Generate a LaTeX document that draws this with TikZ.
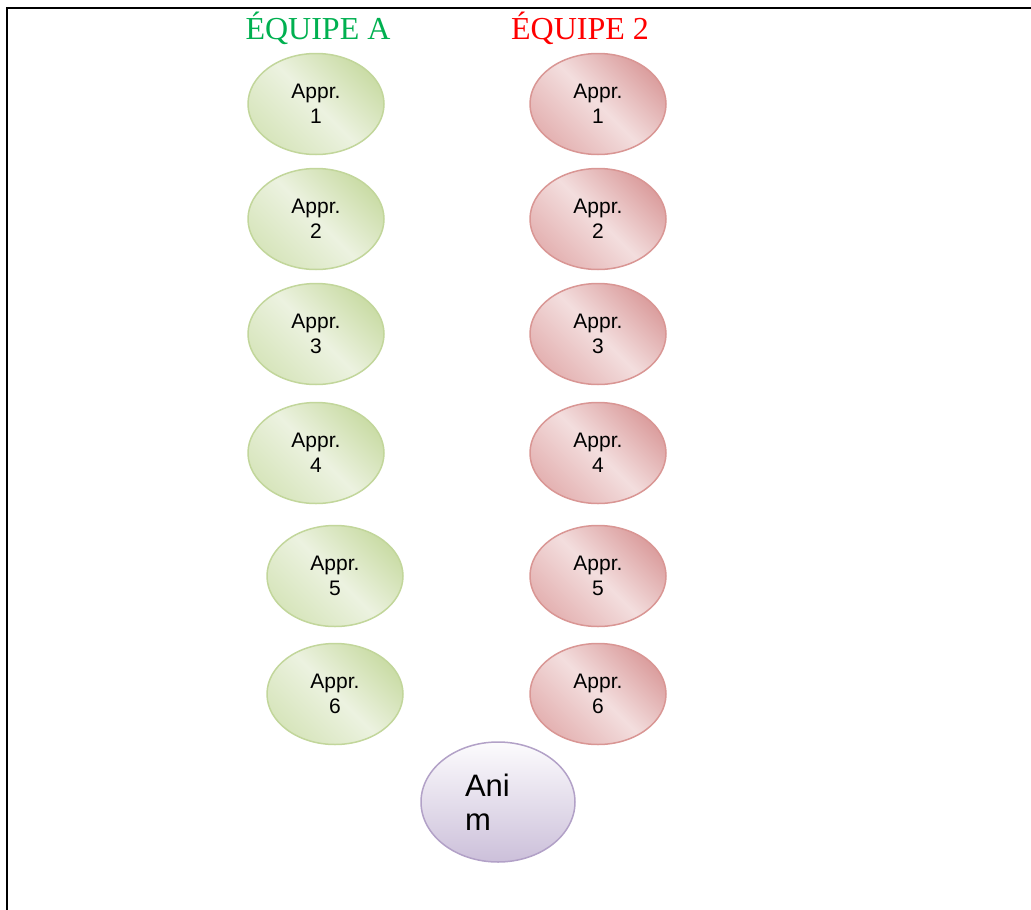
\documentclass[tikz,border=0pt]{standalone}
\usepackage{fontspec}
\setmainfont{Liberation Serif}
\newfontfamily\arialfont{Liberation Sans}
\usepackage{tikz}
\usetikzlibrary{
  positioning,
  shapes.geometric
}
\definecolor{TeamAText}{RGB}{0,176,80}
\definecolor{TeamBText}{RGB}{255,0,0}
\definecolor{ABorder}{RGB}{194,214,155}
\definecolor{ADark}{RGB}{202,220,166}
\definecolor{AMid}{RGB}{215,229,188}
\definecolor{ALight}{RGB}{236,242,224}
\definecolor{BBorder}{RGB}{217,150,148}
\definecolor{BDark}{RGB}{219,158,158}
\definecolor{BMid}{RGB}{228,178,178}
\definecolor{BLight}{RGB}{243,222,222}
\definecolor{MBorder}{RGB}{178,161,199}
\definecolor{MTop}{RGB}{252,251,253}
\definecolor{MBottom}{RGB}{204,192,218}
\tikzset{
  % Apprentice of team A
  appA/.style={
    ellipse,
    draw=ABorder,
    line width=1.5pt,
    top color=ADark,
    bottom color=AMid,
    middle color=ALight,
    shading angle=-45,
    minimum width=136pt,
    minimum height=101pt,
    inner sep=0pt,
    align=center,
    font=\arialfont\fontsize{21}{25}\selectfont
  },
  % Apprentice of team 2
  appB/.style={
    appA,
    draw=BBorder,
    top color=BDark,
    bottom color=BMid,
    middle color=BLight,
    shading angle=-45
  },
  % Animator
  anim/.style={
    ellipse,
    draw=MBorder,
    line width=1.5pt,
    top color=MTop,
    bottom color=MBottom,
    minimum width=154pt,
    minimum height=120pt,
    inner sep=0pt,
    text width=66pt,
    align=left,
    font=\arialfont\fontsize{31}{34}\selectfont
  },
  % Team title
  team/.style={
    font=\fontsize{32}{36}\selectfont
  }
}
\begin{document}
\begin{tikzpicture}[x=1pt,y=-1pt]
  \useasboundingbox (0,0) rectangle (1031,910);
  % frame
  \draw[line width=2pt] (7,910) -- (7,8) -- (1031,8);

  % titles
  \node[team, text=TeamAText] (titleA) at (318,28) {ÉQUIPE A};
  \node[team, text=TeamBText] (titleB) at (580,28) {ÉQUIPE 2};

  % team A
  \foreach \i/\x/\y in {1/316/104, 2/316/219, 3/316/334, 4/316/453, 5/335/576, 6/335/694} {
    \node[appA] (a\i) at (\x,\y) {Appr.\\\i};
  }

  % team 2
  \foreach \i/\y in {1/104, 2/219, 3/334, 4/453, 5/576, 6/694} {
    \node[appB] (b\i) at (598,\y) {Appr.\\\i};
  }

  % animator
  \node[anim] (anim) at (498,802) {Ani\\m};
\end{tikzpicture}
\end{document}
